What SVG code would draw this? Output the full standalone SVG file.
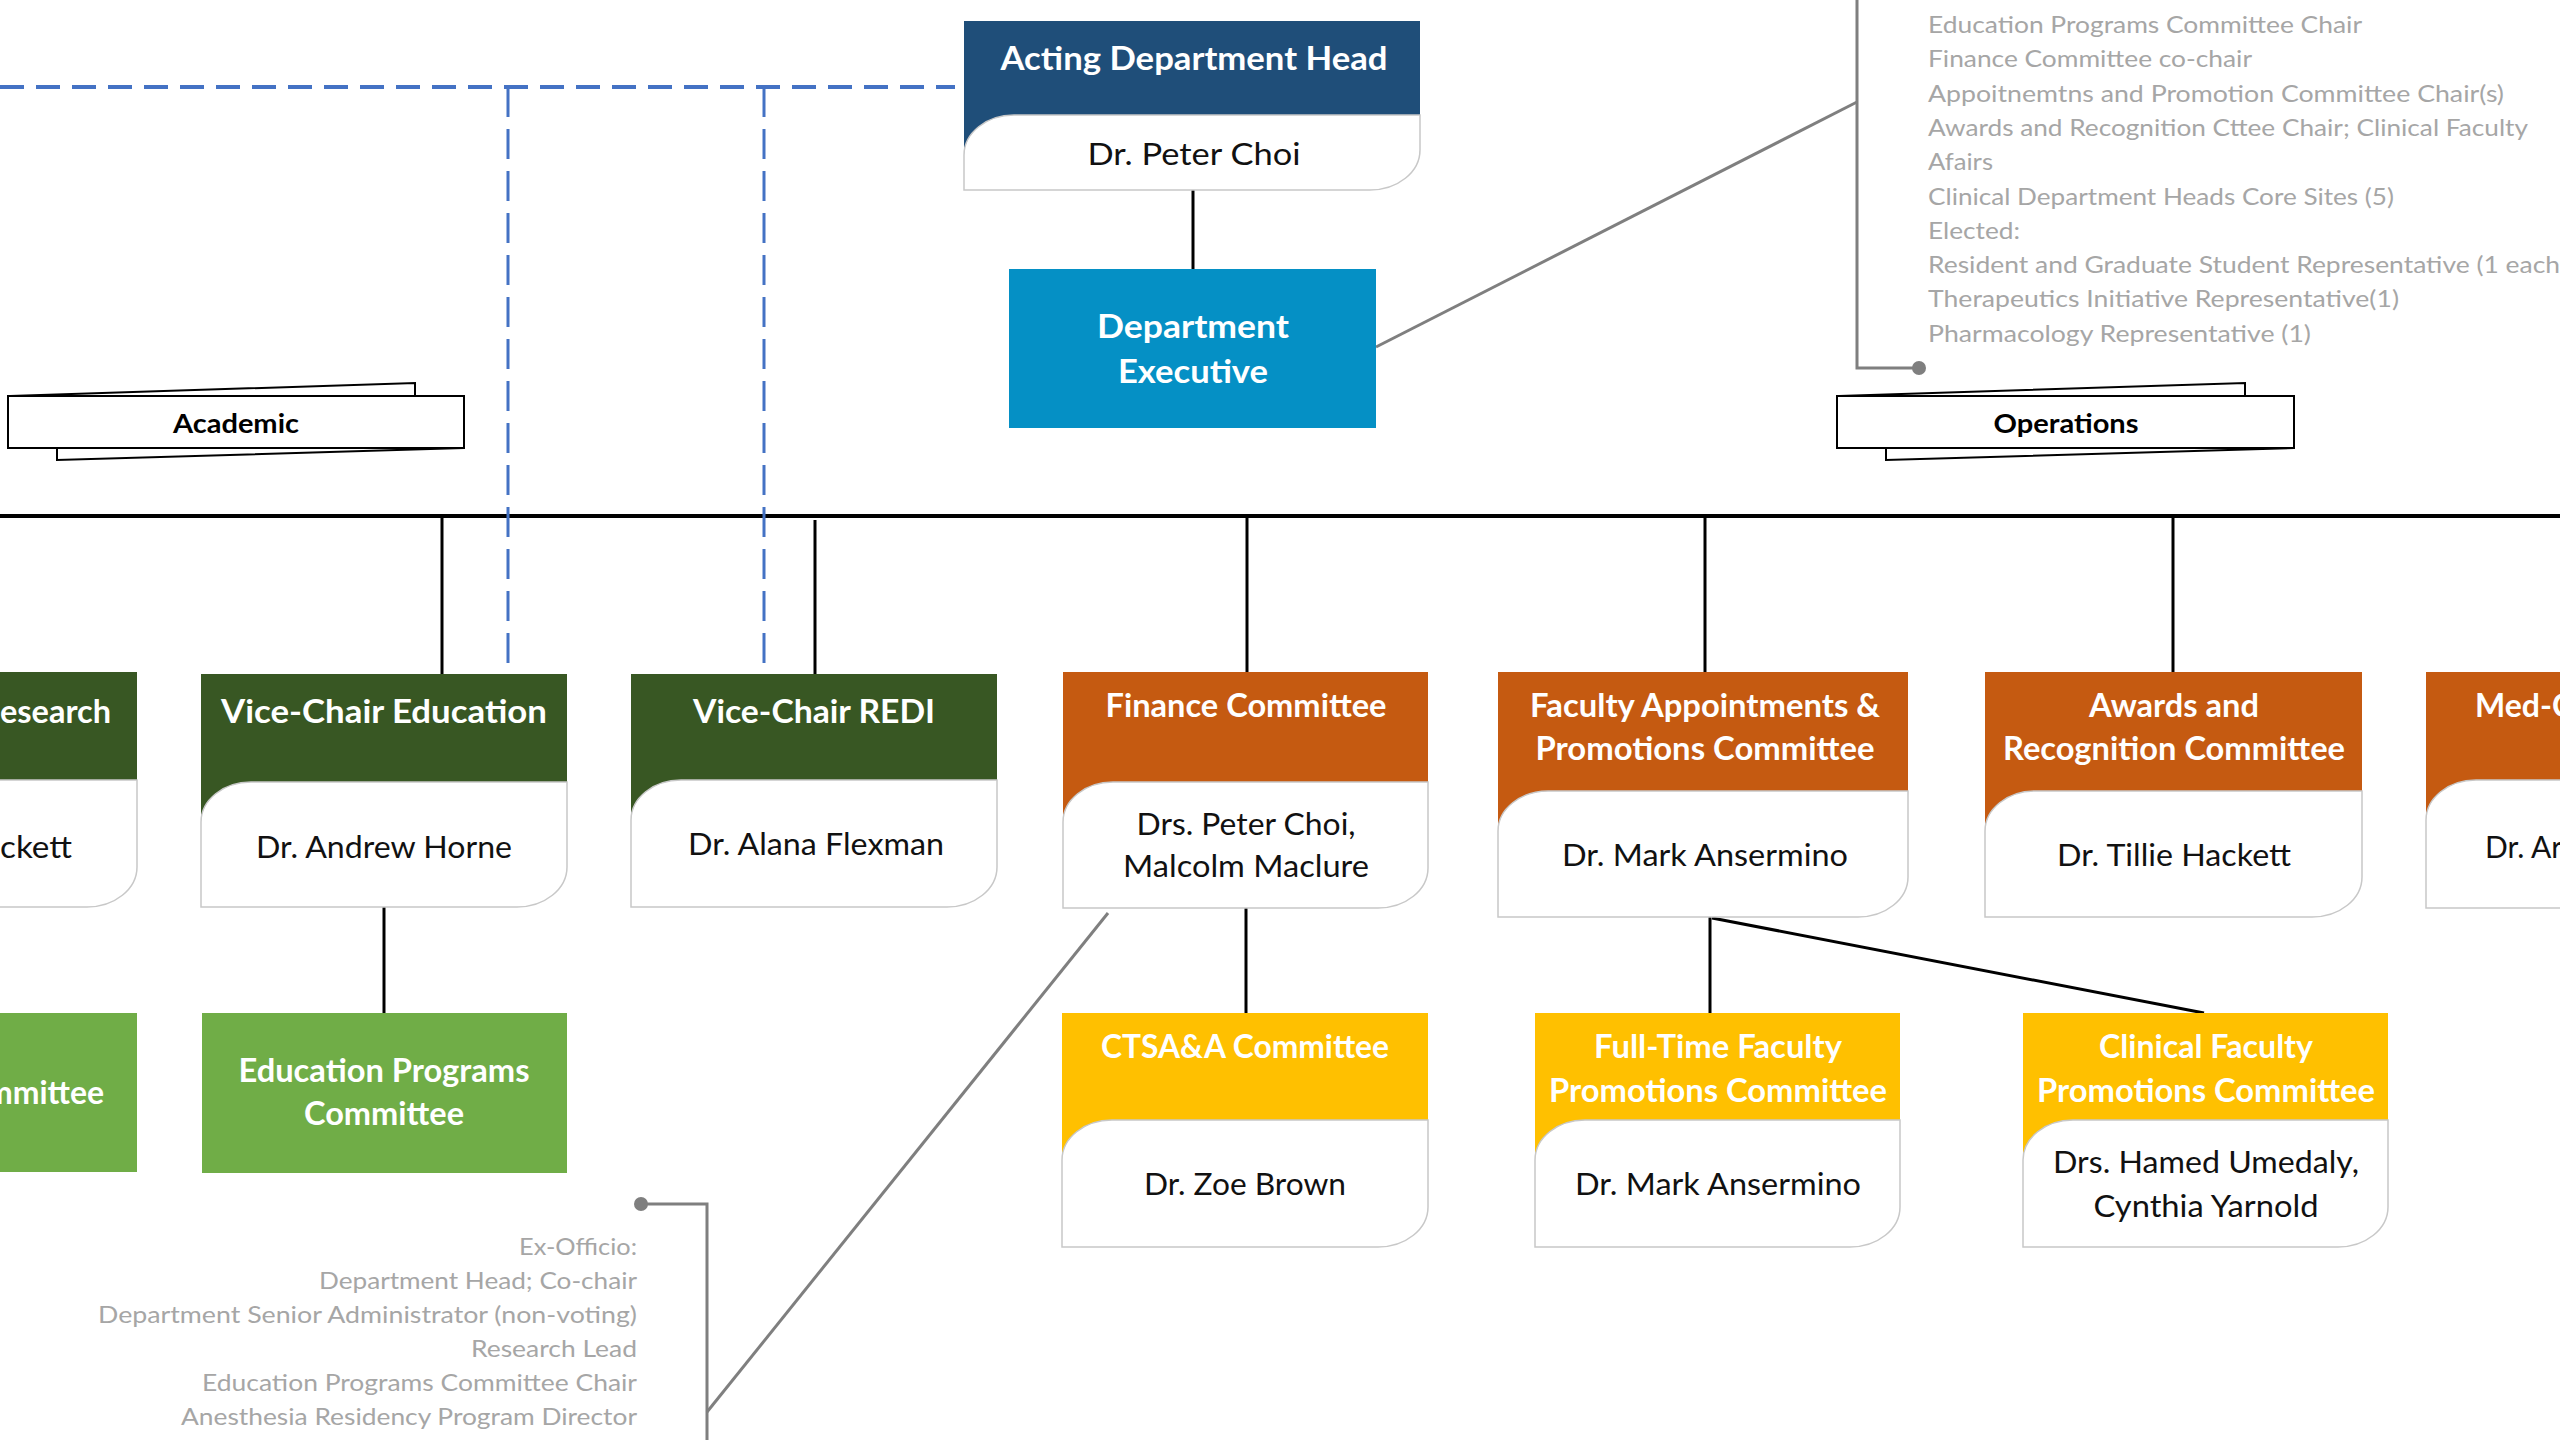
<svg xmlns="http://www.w3.org/2000/svg" width="2560" height="1440" viewBox="0 0 2560 1440">
<style>
text{font-family:Lato,"Liberation Sans",sans-serif}
.hd{font-weight:700;fill:#fff;font-size:32px;text-anchor:middle}
.nm{font-size:30px;fill:#111;text-anchor:middle}
.gr{font-size:24px;fill:#A6A6A6}
.grr{font-size:24px;fill:#A6A6A6;text-anchor:end}
.lb{font-weight:700;font-size:26px;fill:#000;text-anchor:middle}
.body{fill:#fff;stroke:#C8C8C8;stroke-width:1.5}
.conn{stroke:#000;stroke-width:3;fill:none}
.bus{stroke:#000;stroke-width:4;fill:none}
.dh{stroke:#4472C4;stroke-width:4;stroke-dasharray:24 12;fill:none}
.dv{stroke:#4472C4;stroke-width:3;stroke-dasharray:30 12;fill:none}
.gl{stroke:#7F7F7F;stroke-width:3;fill:none}
.tab{fill:#fff;stroke:#000;stroke-width:2}
.dg{fill:#385723}.or{fill:#C55A11}.ye{fill:#FFC000}.lg{fill:#70AD47}
</style>
<rect width="2560" height="1440" fill="#fff"/>
<g id="connectors">
<line class="bus" x1="0" y1="516" x2="2560" y2="516"/>
<line class="conn" x1="1193" y1="190" x2="1193" y2="269"/>
<line class="conn" x1="442" y1="516" x2="442" y2="674"/>
<line class="conn" x1="815" y1="520" x2="815" y2="682"/>
<line class="conn" x1="1247" y1="516" x2="1247" y2="672"/>
<line class="conn" x1="1705" y1="516" x2="1705" y2="672"/>
<line class="conn" x1="2173" y1="516" x2="2173" y2="672"/>
<line class="conn" x1="384" y1="907" x2="384" y2="1013"/>
<line class="conn" x1="1246" y1="908" x2="1246" y2="1013"/>
<line class="conn" x1="1710" y1="917" x2="1710" y2="1013"/>
<line class="conn" x1="1712" y1="918" x2="2204" y2="1013"/>
<path class="dh" d="M0,87 H955"/>
<path class="dv" d="M508,87 V673"/>
<path class="dv" d="M764,87 V675"/>
<path class="gl" d="M1376,347 L1857,102"/>
<path class="gl" d="M1857,-5 V368 H1919"/>
<circle cx="1919" cy="368" r="7" fill="#7F7F7F"/>
<path class="gl" d="M641,1204 H707 V1445"/>
<circle cx="641" cy="1204" r="7" fill="#7F7F7F"/>
<path class="gl" d="M707,1412 L1108,913"/>
</g>
<g id="acting-head">
<rect x="964" y="21" width="456" height="134" fill="#1F4E79"/>
<path class="body" d="M964,155 A50,40 0 0 1 1014,115 H1420 V150 A50,40 0 0 1 1370,190 H964 Z"/>
<text class="hd" x="1194" y="70" font-size="33" textLength="387" lengthAdjust="spacingAndGlyphs">Acting Department Head</text>
<text class="nm" x="1194" y="165" textLength="213" lengthAdjust="spacingAndGlyphs">Dr. Peter Choi</text>
</g>
<g id="dept-exec">
<rect x="1009" y="269" width="367" height="159" fill="#0590C5"/>
<text class="hd" x="1193" y="338" textLength="192" lengthAdjust="spacingAndGlyphs">Department</text>
<text class="hd" x="1193" y="383" textLength="150" lengthAdjust="spacingAndGlyphs">Executive</text>
</g>
<g id="academic">
<polygon class="tab" points="10,396 415,383 415,396"/>
<polygon class="tab" points="57,448 57,460 464,448"/>
<rect class="tab" x="8" y="396" width="456" height="52"/>
<text class="lb" x="236" y="433" textLength="126" lengthAdjust="spacingAndGlyphs">Academic</text>
</g>
<g id="operations">
<polygon class="tab" points="1839,396 2245,383 2245,396"/>
<polygon class="tab" points="1886,448 1886,460 2294,448"/>
<rect class="tab" x="1837" y="396" width="457" height="52"/>
<text class="lb" x="2066" y="433" textLength="145" lengthAdjust="spacingAndGlyphs">Operations</text>
</g>
<g id="exec-members">
<text class="gr" x="1928" y="33" textLength="434" lengthAdjust="spacingAndGlyphs">Education Programs Committee Chair</text>
<text class="gr" x="1928" y="67.3" textLength="324" lengthAdjust="spacingAndGlyphs">Finance Committee co-chair</text>
<text class="gr" x="1928" y="101.6" textLength="576" lengthAdjust="spacingAndGlyphs">Appoitnemtns and Promotion Committee Chair(s)</text>
<text class="gr" x="1928" y="135.9" textLength="600" lengthAdjust="spacingAndGlyphs">Awards and Recognition Cttee Chair; Clinical Faculty</text>
<text class="gr" x="1928" y="170.2" textLength="65" lengthAdjust="spacingAndGlyphs">Afairs</text>
<text class="gr" x="1928" y="204.5" textLength="466" lengthAdjust="spacingAndGlyphs">Clinical Department Heads Core Sites (5)</text>
<text class="gr" x="1928" y="238.8" textLength="92" lengthAdjust="spacingAndGlyphs">Elected:</text>
<text class="gr" x="1928" y="273.1" textLength="632" lengthAdjust="spacingAndGlyphs">Resident and Graduate Student Representative (1 each</text>
<text class="gr" x="1928" y="307.4" textLength="471" lengthAdjust="spacingAndGlyphs">Therapeutics Initiative Representative(1)</text>
<text class="gr" x="1928" y="341.7" textLength="383" lengthAdjust="spacingAndGlyphs">Pharmacology Representative (1)</text>
</g>
<g id="vc-research">
<rect class="dg" x="-230" y="672" width="367" height="148"/>
<path class="body" d="M-230,820 A50,40 0 0 1 -180,780 H137 V867 A50,40 0 0 1 87,907 H-230 Z"/>
<text class="hd" x="111" y="723" text-anchor="end" style="text-anchor:end" textLength="111" lengthAdjust="spacingAndGlyphs">esearch</text>
<text class="nm" x="72" y="858" style="text-anchor:end" textLength="72" lengthAdjust="spacingAndGlyphs">ckett</text>
</g>
<g id="vc-education">
<rect class="dg" x="201" y="674" width="366" height="148"/>
<path class="body" d="M201,822 A50,40 0 0 1 251,782 H567 V867 A50,40 0 0 1 517,907 H201 Z"/>
<text class="hd" x="384" y="723" textLength="326" lengthAdjust="spacingAndGlyphs">Vice-Chair Education</text>
<text class="nm" x="384" y="858" textLength="256" lengthAdjust="spacingAndGlyphs">Dr. Andrew Horne</text>
</g>
<g id="vc-redi">
<rect class="dg" x="631" y="674" width="366" height="146"/>
<path class="body" d="M631,820 A50,40 0 0 1 681,780 H997 V867 A50,40 0 0 1 947,907 H631 Z"/>
<text class="hd" x="814" y="723" textLength="242" lengthAdjust="spacingAndGlyphs">Vice-Chair REDI</text>
<text class="nm" x="816" y="855" textLength="256" lengthAdjust="spacingAndGlyphs">Dr. Alana Flexman</text>
</g>
<g id="finance">
<rect class="or" x="1063" y="672" width="365" height="150"/>
<path class="body" d="M1063,822 A50,40 0 0 1 1113,782 H1428 V868 A50,40 0 0 1 1378,908 H1063 Z"/>
<text class="hd" x="1246" y="717" textLength="281" lengthAdjust="spacingAndGlyphs">Finance Committee</text>
<text class="nm" x="1246" y="835" textLength="219" lengthAdjust="spacingAndGlyphs">Drs. Peter Choi,</text>
<text class="nm" x="1246" y="877" textLength="246" lengthAdjust="spacingAndGlyphs">Malcolm Maclure</text>
</g>
<g id="faculty-appointments">
<rect class="or" x="1498" y="672" width="410" height="159"/>
<path class="body" d="M1498,831 A50,40 0 0 1 1548,791 H1908 V877 A50,40 0 0 1 1858,917 H1498 Z"/>
<text class="hd" x="1705" y="717" textLength="350" lengthAdjust="spacingAndGlyphs">Faculty Appointments &amp;</text>
<text class="hd" x="1705" y="760" textLength="339" lengthAdjust="spacingAndGlyphs">Promotions Committee</text>
<text class="nm" x="1705" y="866" textLength="286" lengthAdjust="spacingAndGlyphs">Dr. Mark Ansermino</text>
</g>
<g id="awards">
<rect class="or" x="1985" y="672" width="377" height="159"/>
<path class="body" d="M1985,831 A50,40 0 0 1 2035,791 H2362 V877 A50,40 0 0 1 2312,917 H1985 Z"/>
<text class="hd" x="2174" y="717" textLength="170" lengthAdjust="spacingAndGlyphs">Awards and</text>
<text class="hd" x="2174" y="760" textLength="342" lengthAdjust="spacingAndGlyphs">Recognition Committee</text>
<text class="nm" x="2174" y="866" textLength="234" lengthAdjust="spacingAndGlyphs">Dr. Tillie Hackett</text>
</g>
<g id="med-c">
<rect class="or" x="2426" y="672" width="374" height="148"/>
<path class="body" d="M2426,820 A50,40 0 0 1 2476,780 H2800 V868 A50,40 0 0 1 2750,908 H2426 Z"/>
<text class="hd" x="2475" y="717" style="text-anchor:start">Med-C</text>
<text class="nm" x="2485" y="858" style="text-anchor:start">Dr. Ar</text>
</g>
<g id="research-committee">
<rect class="lg" x="-230" y="1013" width="367" height="159"/>
<text class="hd" x="104" y="1104" style="text-anchor:end" textLength="118" lengthAdjust="spacingAndGlyphs">mmittee</text>
</g>
<g id="education-programs">
<rect class="lg" x="202" y="1013" width="365" height="160"/>
<text class="hd" x="384" y="1082" textLength="291" lengthAdjust="spacingAndGlyphs">Education Programs</text>
<text class="hd" x="384" y="1125" textLength="160" lengthAdjust="spacingAndGlyphs">Committee</text>
</g>
<g id="epc-members">
<text class="grr" x="637" y="1255" textLength="118" lengthAdjust="spacingAndGlyphs">Ex-Officio:</text>
<text class="grr" x="637" y="1289" textLength="318" lengthAdjust="spacingAndGlyphs">Department Head; Co-chair</text>
<text class="grr" x="637" y="1323" textLength="539" lengthAdjust="spacingAndGlyphs">Department Senior Administrator (non-voting)</text>
<text class="grr" x="637" y="1357" textLength="166" lengthAdjust="spacingAndGlyphs">Research Lead</text>
<text class="grr" x="637" y="1391" textLength="435" lengthAdjust="spacingAndGlyphs">Education Programs Committee Chair</text>
<text class="grr" x="637" y="1425" textLength="456" lengthAdjust="spacingAndGlyphs">Anesthesia Residency Program Director</text>
</g>
<g id="ctsaa">
<rect class="ye" x="1062" y="1013" width="366" height="147"/>
<path class="body" d="M1062,1160 A50,40 0 0 1 1112,1120 H1428 V1207 A50,40 0 0 1 1378,1247 H1062 Z"/>
<text class="hd" x="1245" y="1058" textLength="288" lengthAdjust="spacingAndGlyphs">CTSA&amp;A Committee</text>
<text class="nm" x="1245" y="1195" textLength="202" lengthAdjust="spacingAndGlyphs">Dr. Zoe Brown</text>
</g>
<g id="fulltime-promotions">
<rect class="ye" x="1535" y="1013" width="365" height="147"/>
<path class="body" d="M1535,1160 A50,40 0 0 1 1585,1120 H1900 V1207 A50,40 0 0 1 1850,1247 H1535 Z"/>
<text class="hd" x="1718" y="1058" textLength="248" lengthAdjust="spacingAndGlyphs">Full-Time Faculty</text>
<text class="hd" x="1718" y="1102" textLength="338" lengthAdjust="spacingAndGlyphs">Promotions Committee</text>
<text class="nm" x="1718" y="1195" textLength="286" lengthAdjust="spacingAndGlyphs">Dr. Mark Ansermino</text>
</g>
<g id="clinical-promotions">
<rect class="ye" x="2023" y="1013" width="365" height="147"/>
<path class="body" d="M2023,1160 A50,40 0 0 1 2073,1120 H2388 V1207 A50,40 0 0 1 2338,1247 H2023 Z"/>
<text class="hd" x="2206" y="1058" textLength="214" lengthAdjust="spacingAndGlyphs">Clinical Faculty</text>
<text class="hd" x="2206" y="1102" textLength="338" lengthAdjust="spacingAndGlyphs">Promotions Committee</text>
<text class="nm" x="2206" y="1173" textLength="306" lengthAdjust="spacingAndGlyphs">Drs. Hamed Umedaly,</text>
<text class="nm" x="2206" y="1217" textLength="225" lengthAdjust="spacingAndGlyphs">Cynthia Yarnold</text>
</g>
</svg>
